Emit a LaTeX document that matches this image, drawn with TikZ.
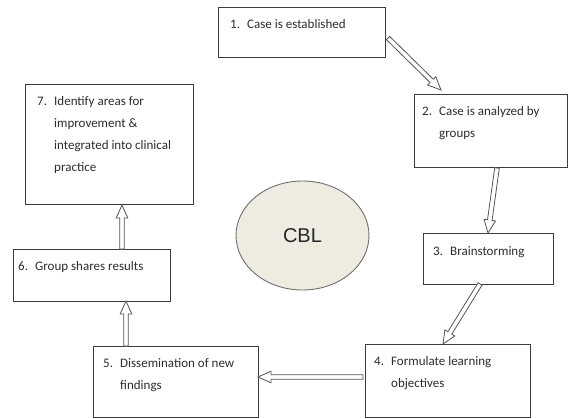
\documentclass[tikz,border=0pt]{standalone}
\usepackage{fontspec}
\setmainfont{Carlito}
\newfontfamily\cblfont{Liberation Sans}
\usetikzlibrary{calc,shapes.geometric}
\definecolor{boxc}{RGB}{60,60,60}
\definecolor{arrc}{RGB}{85,85,85}
\definecolor{txtc}{RGB}{45,45,45}
\definecolor{ellfill}{RGB}{238,236,225}
\definecolor{elldraw}{RGB}{110,110,110}
\newcommand\itm[2]{\makebox[17pt][l]{#1}\begin{tabular}[t]{@{}l@{}}#2\end{tabular}}
\newcommand\blockarr[2]{%
  \coordinate (bh) at ($(#2)!13pt!(#1)$);
  \draw[arrowline] ($(#1)!2.3pt!90:(#2)$) -- ($(bh)!2.3pt!90:(#2)$) -- ($(bh)!5.8pt!90:(#2)$) -- (#2)
    -- ($(bh)!5.8pt!-90:(#2)$) -- ($(bh)!2.3pt!-90:(#2)$) -- ($(#1)!2.3pt!-90:(#2)$) -- cycle;}
\begin{document}
\begin{tikzpicture}[x=1pt,y=-1pt,
  box/.style={draw=boxc, line width=1pt, fill=white, rectangle, inner sep=0pt},
  lbl/.style={anchor=base west, inner sep=0pt, text=txtc, font=\fontsize{13}{22}\selectfont},
  arrowline/.style={draw=arrc, line width=0.8pt, fill=white, line join=miter}]
\useasboundingbox (0,0) rectangle (569,419);
% boxes
\node[box, minimum width=167pt, minimum height=50pt] (b1) at (301.5,33) {};
\node[box, minimum width=153pt, minimum height=73pt] (b2) at (490.5,131.5) {};
\node[box, minimum width=130pt, minimum height=50pt] (b3) at (488,259) {};
\node[box, minimum width=165pt, minimum height=73pt] (b4) at (447.5,380.5) {};
\node[box, minimum width=165pt, minimum height=71pt] (b5) at (175.5,381.5) {};
\node[box, minimum width=157pt, minimum height=52pt] (b6) at (91.5,275) {};
\node[box, minimum width=168pt, minimum height=120pt] (b7) at (109,145) {};
% centre ellipse
\node[ellipse, draw=elldraw, line width=0.9pt, fill=ellfill, minimum width=133pt, minimum height=109pt,
      font=\cblfont\fontsize{20}{24}\selectfont, text=black!85] (cbl) at (302.5,235.5) {CBL};
% texts
\node[lbl] (t1) at (230,29) {\itm{1.}{Case is established}};
\node[lbl] (t2) at (422,116) {\itm{2.}{Case is analyzed by\\groups}};
\node[lbl] (t3) at (433,255) {\itm{3.}{Brainstorming}};
\node[lbl] (t4) at (374,365) {\itm{4.}{Formulate learning\\objectives}};
\node[lbl] (t5) at (103,367) {\itm{5.}{Dissemination of new\\findings}};
\node[lbl] (t6) at (18,270) {\itm{6.}{Group shares results}};
\node[lbl] (t7) at (37,106) {\itm{7.}{Identify areas for\\improvement \&\\integrated into clinical\\practice}};
% arrow ends
\coordinate (a1s) at (388,38);  \coordinate (a1e) at (441,90);
\coordinate (a2s) at (497,168); \coordinate (a2e) at (488,233);
\coordinate (a3s) at (480,284); \coordinate (a3e) at (443,344);
\coordinate (a4s) at (363,377); \coordinate (a4e) at (258,377);
\coordinate (a5s) at (126,346); \coordinate (a5e) at (126,301);
\coordinate (a6s) at (122,249); \coordinate (a6e) at (122,205);
\blockarr{a1s}{a1e}
\blockarr{a2s}{a2e}
\blockarr{a3s}{a3e}
\blockarr{a4s}{a4e}
\blockarr{a5s}{a5e}
\blockarr{a6s}{a6e}
\end{tikzpicture}
\end{document}
